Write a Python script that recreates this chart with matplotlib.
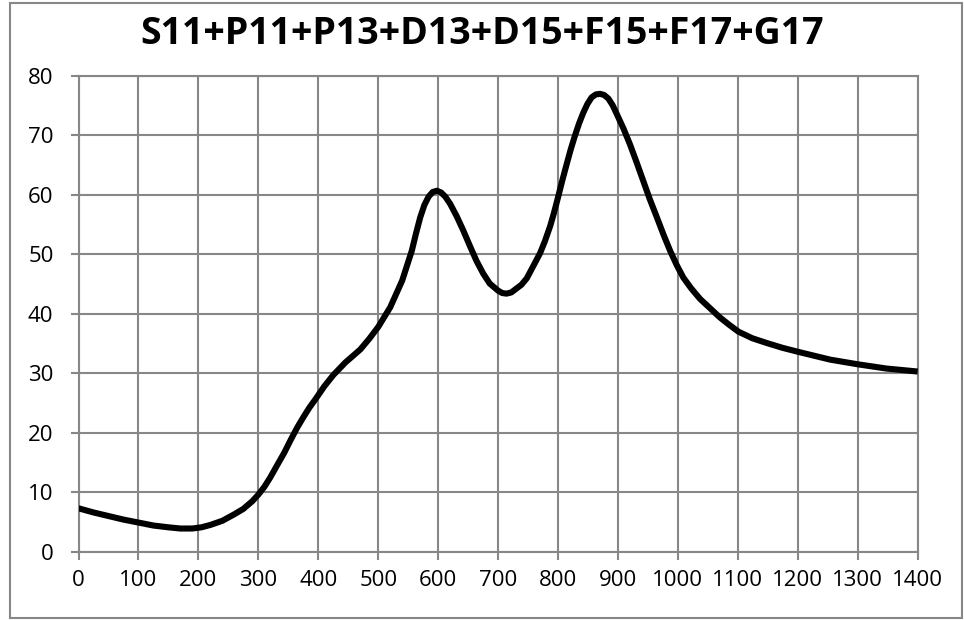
import matplotlib
matplotlib.use("Agg")
import matplotlib.pyplot as plt
from matplotlib.patches import Rectangle

# --- DATA: summed partial-wave curve ---
energy = [0, 25, 50, 75, 100, 125, 150, 170, 190, 205, 220, 240, 260, 275,
          290, 300, 310, 320, 330, 343, 355, 365, 375, 385, 395, 410, 425,
          445, 470, 485, 500, 520, 540, 556, 563, 570, 577, 584, 591, 598,
          605, 612, 620, 631, 642, 653, 664, 675, 686, 700, 707, 714, 722,
          739, 748, 759, 770, 778, 787, 793, 800, 807, 815, 821, 828, 835,
          842, 849, 856, 863, 870, 877, 884, 891, 898, 909, 920, 931, 942,
          953, 965, 976, 987, 998, 1009, 1022, 1037, 1053, 1070, 1085, 1101,
          1124, 1148, 1174, 1201, 1254, 1301, 1348, 1400]
value = [7.3, 6.6, 6.0, 5.4, 4.9, 4.4, 4.1, 3.9, 3.9, 4.1, 4.5, 5.2, 6.3, 7.2,
         8.5, 9.6, 10.9, 12.5, 14.3, 16.6, 19.0, 20.9, 22.6, 24.2, 25.6, 27.8, 29.7,
         31.8, 34.0, 35.8, 37.8, 41.1, 45.6, 50.6, 53.5, 56.2, 58.3, 59.7, 60.5, 60.7,
         60.4, 59.7, 58.5, 56.4, 54.0, 51.4, 48.9, 46.8, 45.1, 43.9, 43.5, 43.4, 43.6,
         44.9, 46.0, 48.1, 50.2, 52.2, 54.8, 56.9, 59.6, 62.4, 65.4, 67.6, 69.9, 72.0,
         73.8, 75.3, 76.4, 76.9, 77.0, 76.8, 76.2, 75.1, 73.6, 71.2, 68.5, 65.5, 62.4,
         59.3, 56.2, 53.3, 50.6, 48.2, 46.1, 44.3, 42.5, 41.0, 39.4, 38.2, 37.0,
         35.9, 35.1, 34.3, 33.6, 32.3, 31.5, 30.8, 30.3]

title = "S11+P11+P13+D13+D15+F15+F17+G17"
x_ticks = list(range(0, 1401, 100))
y_ticks = list(range(0, 81, 10))

grid_grey = "#878787"
plt.rcParams['font.family'] = ['Open Sans', 'DejaVu Sans']

fig = plt.figure(figsize=(9.64, 6.2), dpi=100)
ax = fig.add_axes([78.5 / 964, 1 - 551.7 / 620, (917.7 - 78.5) / 964, (551.7 - 76) / 620])

ax.plot(energy, value, color="black", linewidth=4.4,
        solid_joinstyle="round", solid_capstyle="butt", zorder=3)

ax.set_xlim(0, 1400)
ax.set_ylim(0, 80)
ax.set_xticks(x_ticks)
ax.set_yticks(y_ticks)
ax.grid(True, color=grid_grey, linewidth=1.5)
ax.set_axisbelow(True)
for s in ax.spines.values():
    s.set_color(grid_grey)
    s.set_linewidth(1.5)
ax.tick_params(axis="both", colors=grid_grey, width=1.5, length=6,
               labelcolor="black", labelsize=16)
ax.tick_params(axis="x", pad=7)
ax.tick_params(axis="y", pad=12)

fig.text(0.5, 1 - 34 / 620, title, ha="center", va="center",
         fontsize=27, fontweight="bold")

# outer chart border
fig.patches.append(Rectangle((10 / 964, 2 / 620), 952 / 964, 615 / 620,
                             transform=fig.transFigure, fill=False,
                             edgecolor=grid_grey, linewidth=1.5))

fig.savefig("out.png", dpi=100)
